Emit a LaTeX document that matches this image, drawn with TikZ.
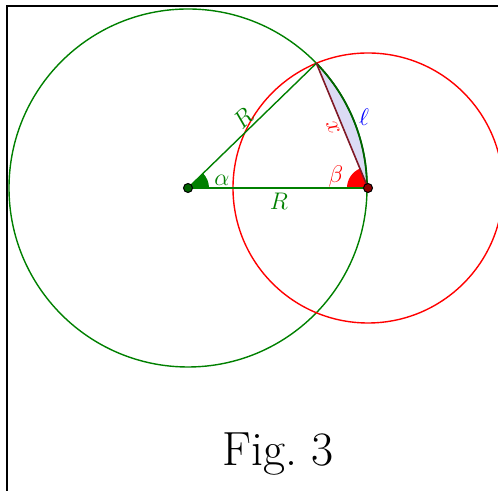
\documentclass[tikz,border=0pt]{standalone}
\usetikzlibrary{calc}
\definecolor{ggreen}{rgb}{0,0.5,0}
\definecolor{dgreen}{rgb}{0,0.39,0}
\definecolor{dred}{rgb}{0.55,0,0}
\definecolor{chordred}{rgb}{0.5,0.1,0.15}
\definecolor{lens}{rgb}{0.86,0.86,0.96}
\tikzset{
  circ/.style={line width=0.7pt},
  seg/.style={line width=0.7pt, ggreen},
  dot/.style={circle, draw=black, line width=0.5pt, inner sep=0pt, minimum size=4.5pt},
  lbl/.style={inner sep=0pt, font=\fontsize{12.5}{15}\selectfont},
}
\begin{document}
\begin{tikzpicture}[x=0.5pt,y=0.5pt]
\useasboundingbox (0,0) rectangle (498,491);
\clip (0,0) rectangle (498,491);
% frame
\draw[line width=1pt] (6.5,-5) -- (6.5,484.5) -- (510,484.5);
\coordinate (A) at (188,303);
\coordinate (B) at (368,303);
\coordinate (P) at ($(A)+(44.18:179)$);
% lens
\fill[lens] (P) arc[start angle=44.18, end angle=0, radius=179] -- cycle;
% sectors
\fill[ggreen] (A) -- ++(0:21) arc[start angle=0, end angle=44.18, radius=21] -- cycle;
\fill[red] (B) -- ++(112.48:21) arc[start angle=112.48, end angle=180, radius=21] -- cycle;
% circles
\draw[circ, ggreen] (A) circle[radius=179];
\draw[circ, red] (B) circle[radius=135];
% arc l
\draw[line width=0.9pt, dgreen] (P) arc[start angle=44.18, end angle=0, radius=179];
% segments
\draw[seg] (A) -- (B);
\draw[seg] (A) -- (P);
\draw[line width=0.8pt, chordred] (P) -- (B);
% points
\node[dot, fill=dgreen] (a) at (A) {};
\node[dot, fill=dred] (b) at (B) {};
% labels
\node[lbl, text=ggreen] (lalpha) at (222,311) {$\alpha$};
\node[lbl, text=ggreen] (lR1) at (279,290) {$R$};
\node[lbl, text=ggreen, rotate=44] (lR2) at (243,373) {$R$};
\node[lbl, text=red] (lbeta) at (336,314) {$\beta$};
\node[lbl, text=red, rotate=-67] (lx) at (333,363) {$x$};
\node[lbl, text=blue] (lell) at (364,374) {$\ell$};
\node[inner sep=0pt] (fig) at (278,37) {\fontsize{24}{28}\selectfont Fig.~3};
\end{tikzpicture}
\end{document}
